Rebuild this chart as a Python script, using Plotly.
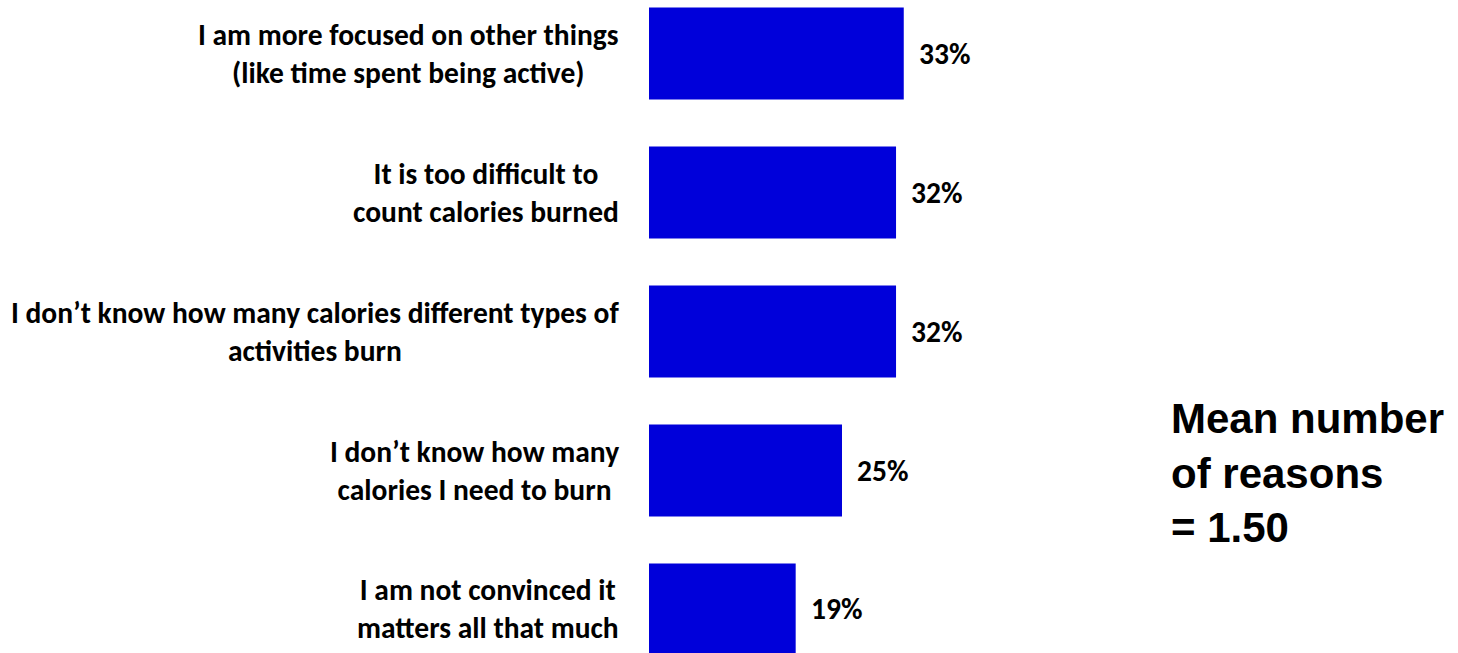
import plotly.graph_objects as go

# Survey responses: reasons for not tracking calories burned
reasons = [
    "I am more focused on other things<br>(like time spent being active)",
    "It is too difficult to<br>count calories burned",
    "I don\u2019t know how many calories different types of<br>activities burn",
    "I don\u2019t know how many<br>calories I need to burn",
    "I am not convinced it<br>matters all that much",
]
shares = [33, 32, 32, 25, 19]
mean_note = "Mean number<br>of reasons<br>= 1.50"

BAR_COLOR = "#0000DA"
LABEL_FONT = "Carlito, Calibri, 'Open Sans', sans-serif"

positions = list(range(len(reasons)))

fig = go.Figure()
fig.add_trace(
    go.Bar(
        x=shares,
        y=positions,
        orientation="h",
        width=0.662,
        marker=dict(color=BAR_COLOR, line=dict(width=0)),
        hoverinfo="skip",
    )
)

annotations = []
# category labels, centred lines, right edge just left of the bars
for pos, text in zip(positions, reasons):
    annotations.append(
        dict(
            x=0, xref="paper", y=pos, yref="y",
            text=text, showarrow=False,
            xanchor="right", yanchor="middle", align="center",
            xshift=-28,
            font=dict(family=LABEL_FONT, size=29.5, color="#000000", weight="bold"),
        )
    )
# value labels after each bar
for pos, val in zip(positions, shares):
    annotations.append(
        dict(
            x=val, xref="x", y=pos, yref="y",
            text=f"{val}%", showarrow=False,
            xanchor="left", yanchor="middle",
            xshift=13,
            font=dict(family=LABEL_FONT, size=29.5, color="#000000", weight="bold"),
        )
    )
# mean note on the right
annotations.append(
    dict(
        x=(1169 - 649) / 772, xref="paper", y=1 - 473 / 653, yref="paper",
        text=mean_note, showarrow=False,
        xanchor="left", yanchor="middle", align="left",
        font=dict(family="Liberation Sans, Arial, sans-serif", size=42,
                  color="#000000", weight="bold"),
    )
)

fig.update_layout(
    width=1458,
    height=653,
    margin=dict(l=649, r=37, t=0, b=0),
    paper_bgcolor="white",
    plot_bgcolor="white",
    showlegend=False,
    annotations=annotations,
    xaxis=dict(range=[0, 100], visible=False, fixedrange=True),
    yaxis=dict(range=[4.313, -0.385], visible=False, fixedrange=True),
)

fig.write_html("out.html", config={"displayModeBar": False})
